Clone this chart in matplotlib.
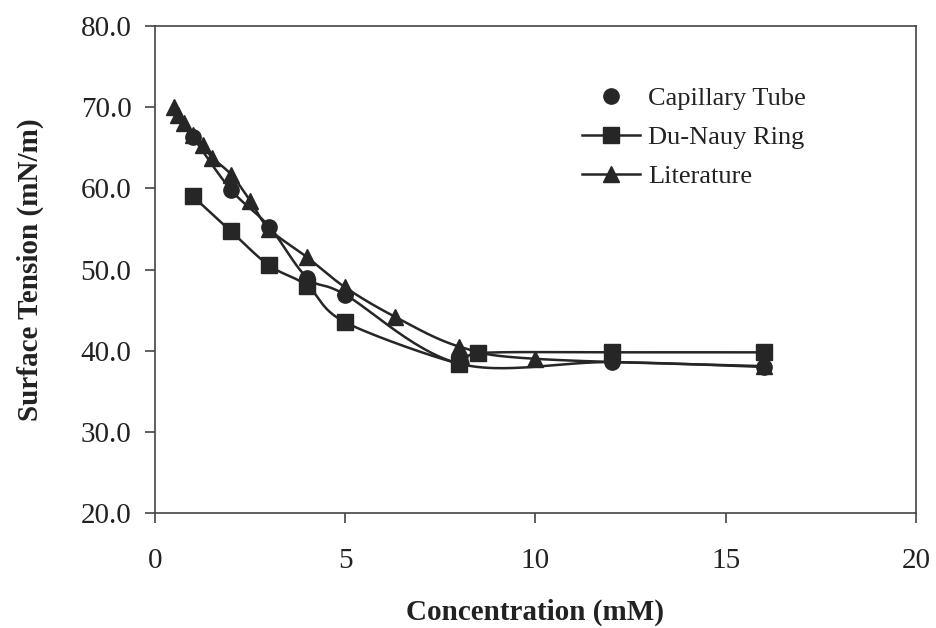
import numpy as np
import matplotlib.pyplot as plt

plt.rcParams['font.family'] = ['Liberation Serif', 'DejaVu Serif']

# surface tension (mN/m) against concentration (mM)
cap_conc = [1.0, 2.0, 3.0, 4.0, 5.0, 8.0, 12.0, 16.0]
cap_st = [66.3, 59.8, 55.3, 49.0, 46.9, 38.4, 38.6, 38.0]

ring_conc = [1.0, 2.0, 3.0, 4.0, 5.0, 8.0, 8.5, 12.0, 16.0]
ring_st = [59.0, 54.7, 50.5, 48.0, 43.5, 38.4, 39.7, 39.8, 39.8]

lit_conc = [0.5, 0.6, 0.75, 1.0, 1.25, 1.5, 2.0, 2.5, 3.0, 4.0, 5.0, 6.3, 8.0, 10.0, 16.0]
lit_st = [70.0, 69.0, 68.1, 66.6, 65.4, 63.8, 61.7, 58.5, 55.0, 51.5, 47.8, 44.2, 40.5, 39.0, 38.1]


def smooth(x, y, n=30):
    # Catmull-Rom style bezier through the points (spreadsheet "smoothed line")
    p = np.column_stack([x, y]).astype(float)
    out = [p[0]]
    t = np.linspace(0, 1, n)[1:, None]
    for i in range(len(p) - 1):
        p0 = p[max(i - 1, 0)]
        p1, p2 = p[i], p[i + 1]
        p3 = p[min(i + 2, len(p) - 1)]
        c1 = p1 + (p2 - p0) / 6
        c2 = p2 - (p3 - p1) / 6
        seg = ((1 - t) ** 3 * p1 + 3 * (1 - t) ** 2 * t * c1
               + 3 * (1 - t) * t ** 2 * c2 + t ** 3 * p2)
        out.extend(seg)
    out = np.array(out)
    return out[:, 0], out[:, 1]


col = '#262626'
fig = plt.figure(figsize=(9.36, 6.28), dpi=100)
ax = fig.add_axes([0.1656, 0.183, 0.813, 0.7756])

ax.plot(*smooth(cap_conc, cap_st), color=col, lw=1.8, zorder=2)
ax.plot(cap_conc, cap_st, 'o', color=col, ms=11, lw=0, label='Capillary Tube', zorder=3)

ax.plot(*smooth(ring_conc, ring_st), color=col, lw=1.8, zorder=2)
ax.plot(ring_conc, ring_st, 's', color=col, ms=11, lw=0, zorder=3)
ax.plot([], [], 's-', color=col, ms=11, lw=1.8, label='Du-Nauy Ring')

ax.plot(*smooth(lit_conc, lit_st), color=col, lw=1.8, zorder=2)
ax.plot(lit_conc, lit_st, '^', color=col, ms=12, lw=0, zorder=3)
ax.plot([], [], '^-', color=col, ms=12, lw=1.8, label='Literature')

ax.set_xlim(0, 20)
ax.set_ylim(20, 80)
ax.set_xticks([0, 5, 10, 15, 20])
ax.set_yticks(np.arange(20, 81, 10))
ax.set_yticklabels([f'{v:.1f}' for v in np.arange(20, 81, 10)])
ax.tick_params(direction='out', length=7, width=1.2, color='#444444',
               labelsize=21, labelcolor='#222222', top=False, right=False)
ax.tick_params(axis='x', pad=18)
ax.tick_params(axis='y', pad=10)
for s in ax.spines.values():
    s.set_color('#444444')
    s.set_linewidth(1.2)

ax.set_xlabel('Concentration (mM)', fontsize=21, fontweight='bold', color='#222222', labelpad=18)
ax.set_ylabel('Surface Tension (mN/m)', fontsize=21, fontweight='bold', color='#222222', labelpad=26)

leg = ax.legend(loc='upper left', bbox_to_anchor=(0.53, 0.925), frameon=False,
                fontsize=19, handlelength=2.2, handletextpad=0.3, labelspacing=0.6,
                labelcolor='#222222')

fig.savefig('out.png', dpi=100, facecolor='white')
